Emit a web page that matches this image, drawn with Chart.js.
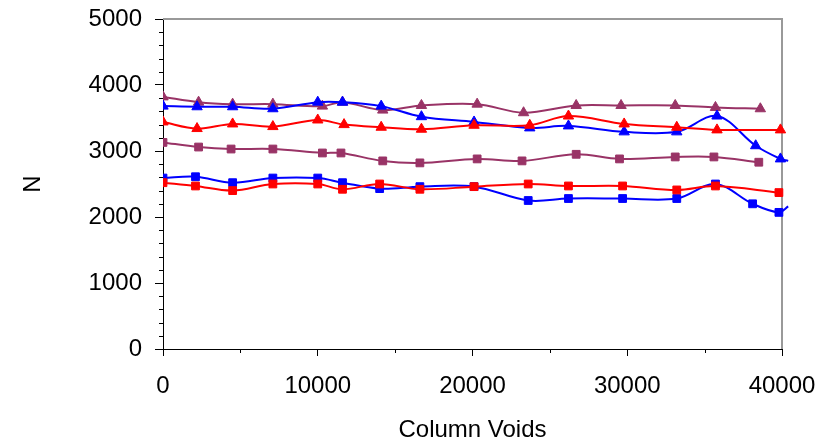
<!DOCTYPE html>
<html>
<head>
<meta charset="utf-8">
<script src="https://cdn.jsdelivr.net/npm/chart.js@4.4.1/dist/chart.umd.min.js"></script>
<style>
  html, body { margin: 0; padding: 0; background: #fff; }
  #chart { display: block; }
</style>
</head>
<body>
<canvas id="chart" width="821" height="442"></canvas>
<script>
// Data
const xTicks = [0, 10000, 20000, 30000, 40000];
const yTicks = [0, 1000, 2000, 3000, 4000, 5000];

const blueTriX = [0, 2200, 4500, 7100, 10000, 11600, 14100, 16700, 20100, 23700, 26200, 29800, 33200, 35800, 38300, 39900, 40400];
const blueTriY = [3680, 3670, 3670, 3640, 3740, 3740, 3680, 3520, 3440, 3350, 3380, 3290, 3290, 3530, 3080, 2880, 2850];

const redTriX = [0, 2200, 4500, 7100, 10000, 11700, 14100, 16700, 20100, 23700, 26200, 29800, 33200, 35800, 39900];
const redTriY = [3440, 3340, 3410, 3370, 3470, 3400, 3360, 3330, 3390, 3390, 3530, 3410, 3360, 3320, 3320];

const purpleTriX = [0, 2300, 4500, 7100, 10300, 11600, 14200, 16700, 20300, 23300, 26700, 29600, 33100, 35700, 38600];
const purpleTriY = [3820, 3740, 3710, 3710, 3680, 3740, 3620, 3690, 3710, 3580, 3690, 3690, 3690, 3660, 3640];

const purpleSqX = [0, 2300, 4400, 7100, 10300, 11500, 14200, 16600, 20300, 23200, 26700, 29500, 33100, 35600, 38500];
const purpleSqY = [3130, 3060, 3030, 3030, 2970, 2970, 2850, 2820, 2880, 2850, 2950, 2880, 2910, 2910, 2830];

const blueSqX = [0, 2100, 4500, 7100, 10000, 11600, 14000, 16600, 20100, 23600, 26200, 29700, 33200, 35700, 38100, 39800, 40400];
const blueSqY = [2590, 2610, 2520, 2590, 2590, 2520, 2430, 2460, 2460, 2250, 2280, 2280, 2280, 2500, 2200, 2070, 2160];

const redSqX = [0, 2100, 4500, 7100, 10000, 11600, 14000, 16600, 20100, 23600, 26200, 29700, 33200, 35700, 39800];
const redSqY = [2520, 2470, 2400, 2500, 2500, 2420, 2500, 2420, 2460, 2500, 2470, 2470, 2410, 2470, 2370];

const BLUE = "#0000ff";
const RED = "#ff0000";
const PURPLE = "#993366";
const FONT = "'Liberation Sans', Arial, sans-serif";

function points(xs, ys) {
  return xs.map((x, i) => ({ x: x, y: ys[i] }));
}

// one series = smoothed line + markers, last point past 40000 has no marker
function series(label, xs, ys, color, style) {
  const r = style === "triangle" ? 6 : 5.5;
  return {
    label: label,
    data: points(xs, ys),
    borderColor: color,
    backgroundColor: color,
    borderWidth: 2,
    pointStyle: style,
    pointRadius: (ctx) => (ctx.raw && ctx.raw.x > 40000 ? 0 : r),
    pointBorderWidth: 1,
    tension: 0.35,
    clip: { left: 0, top: 0, right: 10, bottom: 0 },
  };
}

// Plot frame (grey top/right) and the short minor ticks
const frameAndMinorTicks = {
  id: "frameAndMinorTicks",
  beforeDatasetsDraw(chart) {
    const { ctx, chartArea, scales } = chart;
    ctx.save();
    ctx.strokeStyle = "#999999";
    ctx.lineWidth = 2;
    ctx.beginPath();
    ctx.moveTo(chartArea.left, chartArea.top);
    ctx.lineTo(chartArea.right, chartArea.top);
    ctx.lineTo(chartArea.right, chartArea.bottom);
    ctx.stroke();

    ctx.strokeStyle = "#000";
    ctx.lineWidth = 1;
    ctx.beginPath();
    for (let v = 200; v < 5000; v += 200) {
      if (v % 1000 === 0) continue;
      const y = Math.round(scales.y.getPixelForValue(v)) + 0.5;
      ctx.moveTo(chartArea.left - 4, y);
      ctx.lineTo(chartArea.left, y);
    }
    for (let v = 5000; v < 40000; v += 10000) {
      const x = Math.round(scales.x.getPixelForValue(v)) + 0.5;
      ctx.moveTo(x, chartArea.bottom);
      ctx.lineTo(x, chartArea.bottom + 4);
    }
    ctx.stroke();
    ctx.restore();
  },
};

new Chart(document.getElementById("chart"), {
  type: "line",
  data: {
    datasets: [
      series("Purple squares", purpleSqX, purpleSqY, PURPLE, "rect"),
      series("Red squares", redSqX, redSqY, RED, "rect"),
      series("Blue squares", blueSqX, blueSqY, BLUE, "rect"),
      series("Red triangles", redTriX, redTriY, RED, "triangle"),
      series("Blue triangles", blueTriX, blueTriY, BLUE, "triangle"),
      series("Purple triangles", purpleTriX, purpleTriY, PURPLE, "triangle"),
    ],
  },
  options: {
    responsive: false,
    animation: false,
    devicePixelRatio: 1,
    layout: { padding: { top: 19, right: 39, bottom: 0, left: 0 } },
    plugins: {
      legend: { display: false },
      tooltip: { enabled: false },
    },
    scales: {
      x: {
        type: "linear",
        min: 0,
        max: 40000,
        afterBuildTicks: (scale) => {
          scale.ticks = xTicks.map((v) => ({ value: v }));
        },
        afterFit: (scale) => {
          scale.height = 93;
          scale.paddingLeft = 0;
          scale.paddingRight = 0;
        },
        grid: {
          drawOnChartArea: false,
          drawTicks: true,
          tickLength: 7,
          tickColor: "#000",
        },
        border: { display: true, color: "#000", width: 1 },
        ticks: {
          color: "#000",
          font: { family: FONT, size: 24 },
          padding: 16,
          maxRotation: 0,
          autoSkip: false,
          callback: (v) => String(v),
        },
        title: {
          display: true,
          text: "Column Voids",
          color: "#000",
          font: { family: FONT, size: 24, lineHeight: 1 },
          padding: { top: 0, bottom: 0 },
        },
      },
      y: {
        type: "linear",
        min: 0,
        max: 5000,
        afterBuildTicks: (scale) => {
          scale.ticks = yTicks.map((v) => ({ value: v }));
        },
        afterFit: (scale) => {
          scale.width = 163;
          scale.paddingTop = 0;
          scale.paddingBottom = 0;
        },
        grid: {
          drawOnChartArea: false,
          drawTicks: true,
          tickLength: 8,
          tickColor: "#000",
        },
        border: { display: true, color: "#000", width: 1 },
        ticks: {
          color: "#000",
          font: { family: FONT, size: 24 },
          padding: 13,
          callback: (v) => String(v),
        },
        title: {
          display: true,
          text: "N",
          color: "#000",
          font: { family: FONT, size: 24, lineHeight: 1 },
          padding: { top: 21, bottom: 21 },
        },
      },
    },
  },
  plugins: [frameAndMinorTicks],
});
</script>
</body>
</html>
